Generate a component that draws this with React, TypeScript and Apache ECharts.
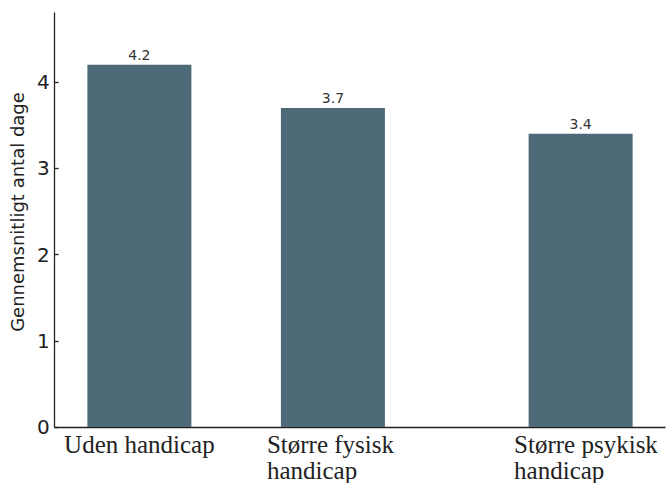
import React, { useEffect, useRef } from "react";
import * as echarts from "echarts";

const categories = ["Uden handicap", "Større fysisk\nhandicap", "Større psykisk\nhandicap"];
const positions = [0, 1, 2.28];
const values = [4.2, 3.7, 3.4];
const yTicks = [0, 1, 2, 3, 4];
const yAxisName = "Gennemsnitligt antal dage";

const serif = "'Liberation Serif', 'DejaVu Serif', serif";
const sans = "'DejaVu Sans', sans-serif";
const xFont = 25;
const xLine = 26;

export default function App() {
  const ref = useRef<HTMLDivElement>(null);
  useEffect(() => {
    if (!ref.current) return;
    const chart = echarts.init(ref.current, undefined, { renderer: "svg" });
    const styleKeys = ["a", "b", "c"];
    const base = { fontFamily: serif, fontSize: xFont, lineHeight: xLine, color: "#222" };
    chart.setOption({
      animation: false,
      grid: { left: 53, right: 2, top: 13, bottom: 56, containLabel: false },
      xAxis: {
        type: "value",
        min: -0.438,
        max: 2.716,
        splitLine: { show: false },
        axisLine: { show: true, onZero: false, lineStyle: { color: "#222", width: 1.3 } },
        axisTick: {
          show: true,
          inside: true,
          length: 4,
          customValues: positions,
          lineStyle: { color: "#222", width: 1.3 },
        },
        axisLabel: {
          customValues: positions,
          margin: 4,
          ...base,
          formatter: (v: number) => {
            const i = positions.findIndex((p) => Math.abs(p - v) < 1e-6);
            if (i < 0) return "";
            const k = styleKeys[i];
            return categories[i]
              .split("\n")
              .map((line) => (i === 2 ? "{sp| }" : "") + "{" + k + "|" + line + "}")
              .join("\n");
          },
          rich: {
            a: { ...base },
            b: { ...base, width: 132, align: "left" },
            c: { ...base, width: 148, align: "left" },
            sp: { ...base, width: 15, align: "left" },
          },
        },
      },
      yAxis: {
        type: "value",
        min: 0,
        max: 4.8,
        interval: 1,
        name: yAxisName,
        nameLocation: "middle",
        nameGap: 27,
        nameTextStyle: { fontFamily: sans, fontSize: 18, color: "#222", padding: [0, 0, 0, 16] },
        splitLine: { show: false },
        axisLine: { show: true, onZero: false, lineStyle: { color: "#222", width: 1.3 } },
        axisTick: {
          show: true,
          inside: true,
          length: 4,
          customValues: yTicks,
          lineStyle: { color: "#222", width: 1.3 },
        },
        axisLabel: {
          customValues: yTicks,
          margin: 5,
          fontFamily: sans,
          fontSize: 20,
          color: "#222",
        },
      },
      series: [
        {
          type: "bar",
          data: positions.map((p, i) => [p, values[i]]),
          barWidth: 104,
          itemStyle: { color: "#4e6a78" },
          label: {
            show: true,
            position: "top",
            distance: 3,
            fontFamily: sans,
            fontSize: 14,
            color: "#333",
            formatter: (p: any) => String(p.value[1]),
          },
        },
      ],
    });
    return () => chart.dispose();
  }, []);
  return <div ref={ref} style={{ width: 667, height: 483, position: "fixed", left: 0, top: 0, background: "#fff" }} />;
}
